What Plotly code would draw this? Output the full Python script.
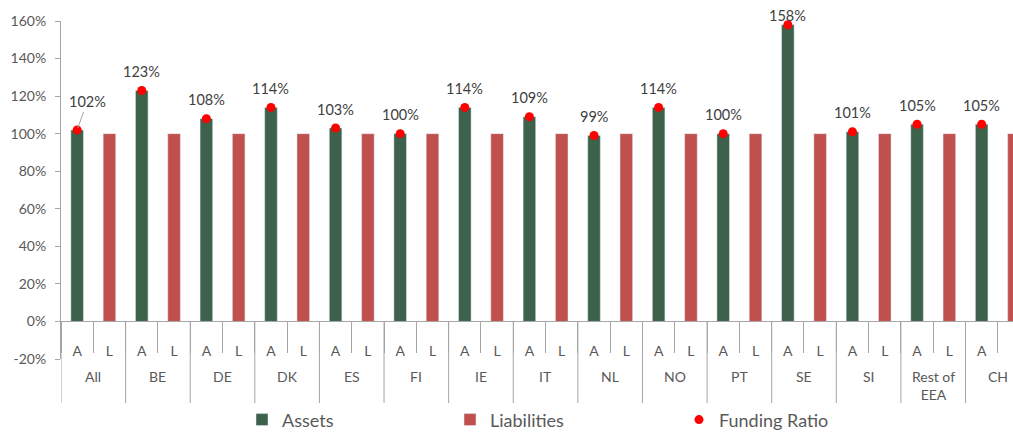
import plotly.graph_objects as go

# ---- data ----
groups = ["All", "BE", "DE", "DK", "ES", "FI", "IE", "IT", "NL", "NO", "PT", "SE", "SI", "Rest of<br>EEA", "CH"]
sub_labels = ["A", "L"]
assets = [102, 123, 108, 114, 103, 100, 114, 109, 99, 114, 100, 158, 101, 105, 105]
liabilities = [100, 100, 100, 100, 100, 100, 100, 100, 100, 100, 100, 100, 100, 100, 100]
funding_ratio = [102, 123, 108, 114, 103, 100, 114, 109, 99, 114, 100, 158, 101, 105, 105]
y_ticks = [-20, 0, 20, 40, 60, 80, 100, 120, 140, 160]
y_tick_labels = ["-20%", "0%", "20%", "40%", "60%", "80%", "100%", "120%", "140%", "160%"]

GREEN = "#3D614A"
RED = "#C0504D"
DOT = "#FF0000"
GRAY = "#A6A6A6"
TXT = "#595959"
FONT = "Lato"

W, H = 1013, 432
M_L, M_R, M_T, M_B = 61, 0, 21, 73
PLOT_H = H - M_T - M_B
Y_MIN, Y_MAX = -20, 160


def py(pix):
    """pixel row -> paper y"""
    return (H - M_B - pix) / PLOT_H


zero_paper = (0 - Y_MIN) / (Y_MAX - Y_MIN)

n_sub = len(sub_labels)
a_x = [i * n_sub + sub_labels.index("A") for i in range(len(groups))]
l_x = [i * n_sub + sub_labels.index("L") for i in range(len(groups))]
tick_pos = list(range(len(groups) * n_sub))
tick_txt = [s for _ in groups for s in sub_labels]
boundaries = [p - 0.5 for p in tick_pos] + [tick_pos[-1] + 0.5]

fig = go.Figure()
fig.add_trace(go.Bar(x=a_x, y=assets, name="Assets", marker_color=GREEN, width=0.39,
                     legend="legend2", hoverinfo="skip"))
fig.add_trace(go.Bar(x=l_x, y=liabilities, name="Liabilities", marker_color=RED, width=0.39,
                     legend="legend3", hoverinfo="skip"))
fig.add_trace(go.Scatter(x=a_x, y=funding_ratio, name="Funding Ratio", mode="markers",
                         marker=dict(color=DOT, size=9), legend="legend4",
                         cliponaxis=False, hoverinfo="skip"))

# data labels
for i, (xx, f) in enumerate(zip(a_x, funding_ratio)):
    if i == 0:
        fig.add_annotation(x=xx, y=f, text=f"{f}%", showarrow=True, arrowhead=0,
                           arrowwidth=1, arrowcolor=GRAY, ax=10, ay=-28, standoff=2,
                           font=dict(family=FONT, size=14.5, color="#404040"))
    else:
        shift = 9 if f > 150 else 19
        fig.add_annotation(x=xx, y=f, text=f"{f}%", showarrow=False, yshift=shift,
                           font=dict(family=FONT, size=14.5, color="#404040"))

# group labels and group dividers
for i, g in enumerate(groups):
    fig.add_annotation(x=i * n_sub + (n_sub - 1) / 2, xref="x", y=py(366), yref="paper",
                       yanchor="top", text=g, showarrow=False,
                       font=dict(family=FONT, size=14, color=TXT))
for i in range(len(groups) + 1):
    fig.add_shape(type="line", xref="x", yref="paper", x0=i * n_sub - 0.5, x1=i * n_sub - 0.5,
                  y0=zero_paper, y1=py(403), line=dict(color=GRAY, width=1), layer="above")

leg = dict(orientation="h", xref="container", yref="container", y=0.028,
           xanchor="left", yanchor="middle", font=dict(size=18, color=TXT, family=FONT),
           bgcolor="rgba(0,0,0,0)")
fig.update_layout(
    width=W, height=H,
    margin=dict(l=M_L, r=M_R, t=M_T, b=M_B),
    plot_bgcolor="white", paper_bgcolor="white",
    barmode="overlay",
    font=dict(family=FONT, size=14, color=TXT),
    showlegend=True,
    legend=dict(visible=False),
    legend2=dict(leg, x=242 / W),
    legend3=dict(leg, x=450 / W),
    legend4=dict(leg, x=679 / W),
)

fig.update_xaxes(
    anchor="free", position=zero_paper,
    range=[-0.5, 28.97], automargin=False,
    showline=True, linecolor=GRAY, linewidth=1,
    tickmode="array", tickvals=tick_pos, ticktext=tick_txt, ticks="",
    ticklabelstandoff=17,
    minor=dict(tickmode="array", tickvals=boundaries, ticks="outside", ticklen=31,
               tickcolor=GRAY, showgrid=False),
    showgrid=False, zeroline=False, tickfont=dict(family=FONT, size=14, color=TXT),
)
fig.update_yaxes(
    range=[Y_MIN, Y_MAX], tickvals=y_ticks, ticktext=y_tick_labels, automargin=False,
    showline=True, linecolor=GRAY, linewidth=1,
    ticks="outside", ticklen=5, tickcolor=GRAY, ticklabelstandoff=6,
    showgrid=False, zeroline=False, tickfont=dict(family=FONT, size=14, color=TXT),
)

fig.write_html("out.html")
